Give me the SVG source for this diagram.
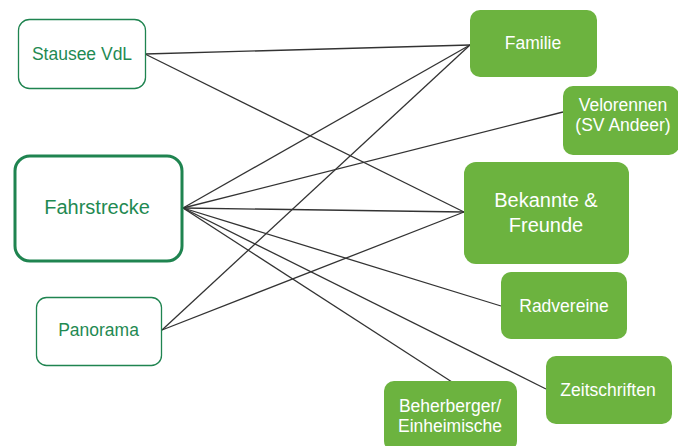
<svg xmlns="http://www.w3.org/2000/svg" width="678" height="446" viewBox="0 0 678 446">
  <style>
    .src rect { fill: #ffffff; stroke: #1f8450; stroke-width: 1.3; }
    .src text { fill: #1f8a52; font-family: "Liberation Sans", Arial, sans-serif; font-size: 17.5px; text-anchor: middle; }
    .dst rect { fill: #6cb33f; stroke: none; }
    .dst text { fill: #ffffff; font-family: "Liberation Sans", Arial, sans-serif; font-size: 17.5px; text-anchor: middle; }
    .links line { stroke: #333333; stroke-width: 1.3; }
  </style>
  <rect width="678" height="446" fill="#ffffff"/>

  <!-- connectors -->
  <g class="links">
    <line x1="145" y1="54" x2="470" y2="45"/>
    <line x1="145" y1="54" x2="464" y2="212"/>
    <line x1="183" y1="208" x2="470" y2="45"/>
    <line x1="183" y1="208" x2="563" y2="112"/>
    <line x1="183" y1="208" x2="464" y2="212"/>
    <line x1="183" y1="208" x2="501" y2="306"/>
    <line x1="183" y1="208" x2="546" y2="389"/>
    <line x1="183" y1="208" x2="452" y2="382"/>
    <line x1="162" y1="330" x2="470" y2="45"/>
    <line x1="162" y1="330" x2="464" y2="212"/>
  </g>

  <!-- sources -->
  <g id="stausee" class="src">
    <rect x="18.5" y="19.5" width="127" height="69" rx="11"/>
    <text x="82" y="60">Stausee VdL</text>
  </g>
  <g id="fahrstrecke" class="src">
    <rect x="15" y="156" width="167" height="105" rx="15" style="stroke-width:3"/>
    <text x="97" y="214" style="font-size:20px">Fahrstrecke</text>
  </g>
  <g id="panorama" class="src">
    <rect x="36.5" y="297.5" width="125" height="68" rx="10"/>
    <text x="98.5" y="336">Panorama</text>
  </g>

  <!-- targets -->
  <g id="familie" class="dst">
    <rect x="470" y="10" width="127" height="67" rx="10"/>
    <text x="533" y="49">Familie</text>
  </g>
  <g id="velorennen" class="dst">
    <rect x="563" y="86" width="116" height="69" rx="10"/>
    <text x="623" y="111">Velorennen</text>
    <text x="623" y="131">(SV Andeer)</text>
  </g>
  <g id="bekannte" class="dst">
    <rect x="464" y="162" width="165" height="102" rx="12"/>
    <text x="546" y="207" style="font-size:20px">Bekannte &amp;</text>
    <text x="546" y="232" style="font-size:20px">Freunde</text>
  </g>
  <g id="radvereine" class="dst">
    <rect x="501" y="272" width="126" height="67" rx="10"/>
    <text x="564" y="312">Radvereine</text>
  </g>
  <g id="zeitschriften" class="dst">
    <rect x="546" y="356" width="126" height="68" rx="10"/>
    <text x="608" y="396">Zeitschriften</text>
  </g>
  <g id="beherberger" class="dst">
    <rect x="384" y="381" width="133" height="70" rx="10"/>
    <text x="450" y="412">Beherberger/</text>
    <text x="450" y="432">Einheimische</text>
  </g>
</svg>
